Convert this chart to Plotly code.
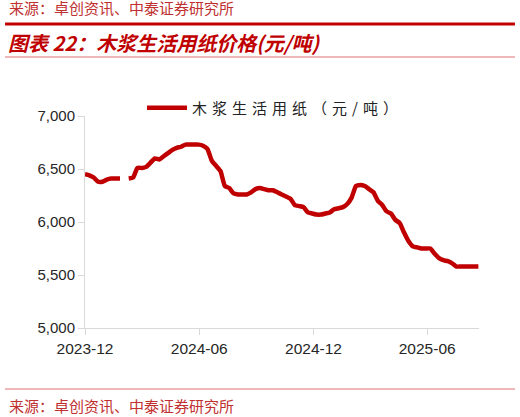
import pandas as pd
import plotly.graph_objects as go

# weekly prices (yuan/ton), None = missing week
start_date = "2023-12-01"
prices = [
    6450, 6440, 6420, 6380, 6380, 6400, 6410, 6410, 6410, None,
    6410, 6420, 6510, 6510, 6520, 6560, 6600, 6590, 6620, 6650,
    6680, 6700, 6710, 6730, 6730, 6730, 6730, 6720, 6690, 6580,
    6530, 6480, 6340, 6320, 6270, 6260, 6260, 6260, 6280, 6310,
    6320, 6310, 6300, 6300, 6280, 6260, 6240, 6220, 6160, 6150,
    6140, 6090, 6080, 6070, 6070, 6080, 6090, 6120, 6130, 6140,
    6170, 6230, 6340, 6350, 6340, 6310, 6280, 6200, 6160, 6100,
    6080, 6020, 5990, 5900, 5820, 5770, 5760, 5750, 5750, 5750,
    5700, 5660, 5640, 5630, 5610, 5580, 5580, 5580, 5580, 5580,
    5580,
]
dates = pd.date_range(start_date, periods=len(prices), freq="7D")

tick_dates = ["2023-12-01", "2024-06-01", "2024-12-01", "2025-06-01"]
tick_labels = ["2023-12", "2024-06", "2024-12", "2025-06"]
y_ticks = [5000, 5500, 6000, 6500, 7000]

series_name = "木浆生活用纸（元/吨）"
title_text = "图表 22：木浆生活用纸价格(元/吨)"
source_text = "来源：卓创资讯、中泰证券研究所"

RED = "#C00000"
W, H = 520, 417
L, R, T, B = 85, 479, 116, 328  # plot area in pixels


def px(x):
    return (x - L) / (R - L)


def py(y):
    return (B - y) / (B - T)


fig = go.Figure()
fig.add_trace(go.Scatter(
    x=dates, y=prices, mode="lines",
    name="\u2004".join(series_name),  # spaced out like the original legend
    line=dict(color=RED, width=4.5, shape="spline", smoothing=0.5),
    connectgaps=False,
))

fig.update_layout(
    width=W, height=H,
    margin=dict(l=L, r=W - R, t=T, b=H - B),
    plot_bgcolor="white", paper_bgcolor="white",
    font=dict(family="Liberation Sans, Arial, sans-serif", color="#333333"),
    showlegend=True,
    legend=dict(
        x=px(142), y=py(108), xanchor="left", yanchor="middle",
        font=dict(family="Noto Sans CJK SC", size=15, color="#222222"),
        bgcolor="rgba(0,0,0,0)", itemwidth=40,
    ),
)

fig.update_xaxes(
    type="date", range=["2023-12-01", "2025-08-23"],
    tickvals=tick_dates, ticktext=tick_labels,
    showgrid=False, showline=True, linecolor="#d9d9d9", linewidth=1,
    ticks="outside", ticklen=6, tickcolor="#d9d9d9",
    tickfont=dict(size=15.5, color="#262626"),
)
fig.update_yaxes(
    range=[5000, 7000], tickvals=y_ticks, tickformat=",",
    showgrid=False, showline=True, linecolor="#d9d9d9", linewidth=1,
    ticks="outside", ticklen=6, tickcolor="#d9d9d9",
    tickfont=dict(size=15, color="#262626"),
    zeroline=False,
)

# header / footer decoration
fig.add_shape(type="line", xref="paper", yref="paper",
              x0=px(5), x1=px(515), y0=py(24), y1=py(24),
              line=dict(color=RED, width=3))
fig.add_shape(type="line", xref="paper", yref="paper",
              x0=px(5), x1=px(515), y0=py(57), y1=py(57),
              line=dict(color="#E07070", width=1))
fig.add_shape(type="line", xref="paper", yref="paper",
              x0=px(5), x1=px(515), y0=py(389), y1=py(389),
              line=dict(color="#E07070", width=1))

fig.add_annotation(text=source_text, xref="paper", yref="paper",
                   x=px(7), y=py(7), xanchor="left", yanchor="middle",
                   showarrow=False,
                   font=dict(family="Noto Sans CJK SC", size=15, color="#C03030"))
fig.add_annotation(text="<b><i>" + title_text + "</i></b>", xref="paper", yref="paper",
                   x=px(6), y=py(42), xanchor="left", yanchor="middle",
                   showarrow=False,
                   font=dict(family="Noto Sans CJK SC", size=20, color=RED))
fig.add_annotation(text=source_text, xref="paper", yref="paper",
                   x=px(7), y=py(405), xanchor="left", yanchor="middle",
                   showarrow=False,
                   font=dict(family="Noto Sans CJK SC", size=15, color="#C03030"))

# drop the default body margin so the figure sits at the window's corner
fig.write_html("out.html", config={"displayModeBar": False},
               post_script="document.body.style.margin='0';")
